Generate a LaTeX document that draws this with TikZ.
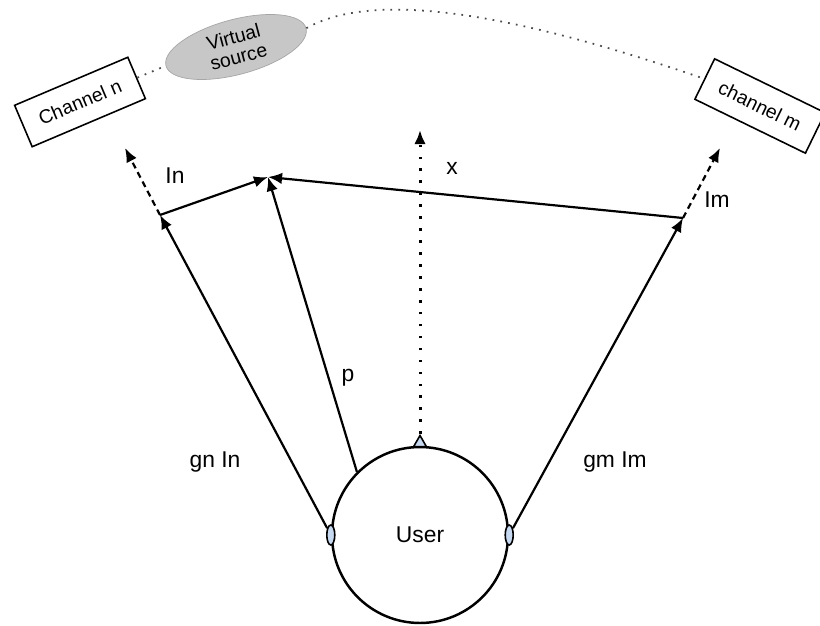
\documentclass[tikz,border=0pt]{standalone}
\usepackage{fontspec}
\setmainfont{Liberation Sans}
\usetikzlibrary{shapes.geometric}
\usetikzlibrary{arrows.meta}
\usetikzlibrary{positioning}
\definecolor{earblue}{RGB}{198,217,240}
\tikzset{
>={Latex[length=8pt,width=6.5pt]}, % All arrows with latex tip
my line/.style={line width=1.25pt},
my box/.style={draw,line width=0.9pt,rectangle,minimum width=2.46cm,minimum height=0.9cm,inner sep=0pt,font=\fontsize{11}{12}\selectfont},
my ear/.style={draw,line width=0.9pt,ellipse,fill=earblue,minimum width=0.16cm,minimum height=0.4cm,inner sep=0pt},
my label/.style={font=\fontsize{13}{15}\selectfont},
my dash/.style={my line,->,dash pattern=on 3.5pt off 2.5pt},
my dots/.style={line width=1.7pt,->,dash pattern=on 1.5pt off 5.3pt},
my thin dots/.style={line width=1pt,dash pattern=on 1pt off 3.5pt,black!70},
}

\begin{document}
\begin{tikzpicture}[x=0.02cm,y=-0.02cm]
\useasboundingbox (0,0) rectangle (820,625);
% head of the user
\node[draw,circle,line width=1.4pt,minimum size=3.52cm,my label] (user) at (420,535) {User};
\node[my ear] (lear) at (user.west) {};
\node[my ear] (rear) at (user.east) {};
\node[draw,line width=0.9pt,fill=earblue,regular polygon,regular polygon sides=3,minimum size=0.3cm,inner sep=0pt,anchor=south,yshift=-1pt] (nose) at (user.north) {};
% sources
\node[my box,rotate=23] (chn) at (80,102) {Channel n};
\node[my box,rotate=-26] (chm) at (760,106) {channel m};
\node[ellipse,draw=black!35,fill=black!22,minimum width=2.9cm,minimum height=1.1cm,inner sep=0pt,rotate=15,align=center,font=\fontsize{11}{11.5}\selectfont] (vs) at (236,47) {Virtual\\source};
\draw[my thin dots] (chn.east) -- (vs.west);
\draw[my thin dots] (vs.east) .. controls (360,-2) and (470,-2) .. (chm.west);
% vectors
\coordinate (pn) at (160,215);
\coordinate (pm) at (683,218);
\coordinate (src) at (268,177);
\coordinate (dn) at (125,148);
\coordinate (dm) at (720,148);
\coordinate (xtip) at (420,130);
\draw[my line,->] (lear) -- (pn);
\draw[my line,->] (rear) -- (pm);
\draw[my line,->] (user.135) -- (src);
\draw[my line,->] (pn) -- (src);
\draw[my line,->] (pm) -- (src);
\draw[my dash] (pn) -- (dn);
\draw[my dash] (pm) -- (dm);
\draw[my dots] (nose.north) -- (xtip);
% labels
\node[my label] (lin) at (175,176) {In};
\node[my label] (lx) at (452,168) {x};
\node[my label] (lim) at (717,200) {Im};
\node[my label] (lp) at (348,378) {p};
\node[my label] (lgn) at (215,462) {gn In};
\node[my label] (lgm) at (615,462) {gm Im};
\end{tikzpicture}
\end{document}
